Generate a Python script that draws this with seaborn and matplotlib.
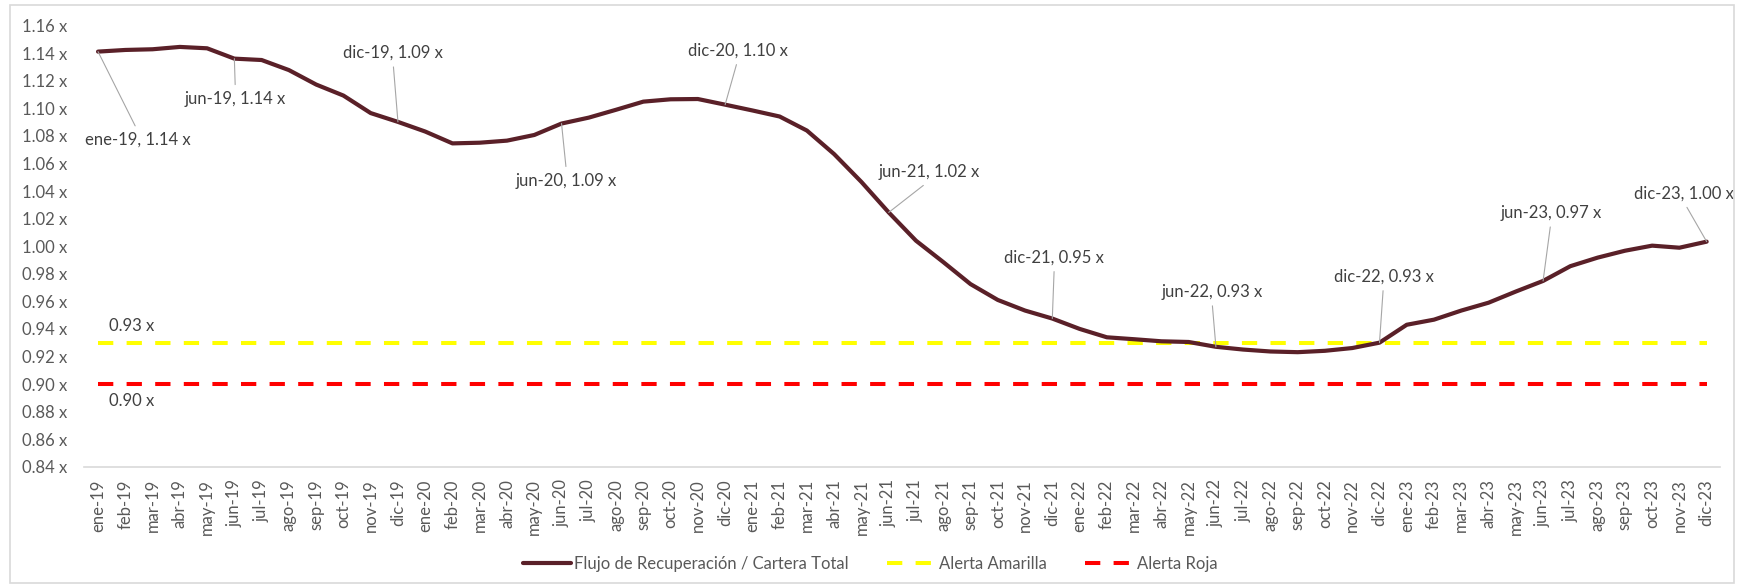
import matplotlib
matplotlib.use("Agg")
import matplotlib.pyplot as plt
from matplotlib.patches import Rectangle
from matplotlib.ticker import FuncFormatter
import numpy as np
import pandas as pd
import seaborn as sns

# months (Spanish abbreviations) and the recovery ratio series
meses_abr = ["ene", "feb", "mar", "abr", "may", "jun", "jul", "ago", "sep", "oct", "nov", "dic"]
anios = ["19", "20", "21", "22", "23"]
meses = [f"{m}-{a}" for a in anios for m in meses_abr]

ratio = [1.1412, 1.1424, 1.1429, 1.1446, 1.1436, 1.1361, 1.1351, 1.1278, 1.1173, 1.1093,
         1.0966, 1.0902, 1.0832, 1.0746, 1.0751, 1.0766, 1.0807, 1.0890, 1.0933, 1.0990,
         1.1049, 1.1066, 1.1068, 1.1027, 1.0985, 1.0941, 1.0839, 1.0668, 1.0466, 1.0245,
         1.0040, 0.9885, 0.9725, 0.9610, 0.9533, 0.9475, 0.9400, 0.9339, 0.9325, 0.9310,
         0.9305, 0.9270, 0.9250, 0.9236, 0.9231, 0.9241, 0.9261, 0.9300, 0.9430, 0.9467,
         0.9533, 0.9590, 0.9671, 0.9748, 0.9855, 0.9917, 0.9967, 1.0004, 0.9989, 1.0033]

alerta_amarilla = 0.93
alerta_roja = 0.90

# months that carry a data label
meses_etiqueta = ["ene-19", "jun-19", "dic-19", "jun-20", "dic-20", "jun-21",
                  "dic-21", "jun-22", "dic-22", "jun-23", "dic-23"]

y_ticks = np.arange(0.84, 1.1601, 0.02)

# label offsets in pixels from the labelled point (layout only)
offsets = {
    "ene-19": (40, -88), "jun-19": (1, -40), "dic-19": (-5, 69), "jun-20": (5, -57),
    "dic-20": (13, 54), "jun-21": (41, 40), "dic-21": (2, 61), "jun-22": (-4, 55),
    "dic-22": (4, 66), "jun-23": (8, 68), "dic-23": (-23, 48),
}

df = pd.DataFrame({
    "mes": meses,
    "ratio": ratio,
    "amarilla": [alerta_amarilla] * len(meses),
    "roja": [alerta_roja] * len(meses),
})

sns.set_theme(style="white")
plt.rcParams["font.family"] = ["Lato", "DejaVu Sans"]

fs = 12
gris = "#595959"
fig = plt.figure(figsize=(17.4, 5.86), dpi=100)
ax = fig.add_axes([84.4 / 1740, 1 - 466.7 / 586, 1635.9 / 1740, 441.0 / 586])

sns.lineplot(data=df, x="mes", y="ratio", sort=False, ax=ax, color="#5A2028", linewidth=3.0,
             label="Flujo de Recuperación / Cartera Total")
sns.lineplot(data=df, x="mes", y="amarilla", sort=False, ax=ax, color="#FFFF00", linewidth=2.9,
             label="Alerta Amarilla")
sns.lineplot(data=df, x="mes", y="roja", sort=False, ax=ax, color="#FF0000", linewidth=2.9,
             label="Alerta Roja")
for ln in ax.lines[1:3]:
    ln.set_dashes((3.8, 3.3))
ax.lines[0].set_zorder(3)

ax.set_xlim(-0.5, len(meses) - 0.5)
ax.set_ylim(0.84, 1.16)
ax.set_yticks(y_ticks)
ax.yaxis.set_major_formatter(FuncFormatter(lambda v, p: f"{v:.2f} x"))
ax.set_xlabel("")
ax.set_ylabel("")
ax.tick_params(axis="y", length=0, pad=12, labelsize=fs, labelcolor=gris)
ax.tick_params(axis="x", length=0, pad=9, labelsize=fs, labelcolor=gris, rotation=90)
ax.grid(False)
for s in ["top", "right", "left"]:
    ax.spines[s].set_visible(False)
ax.spines["bottom"].set_color("#D9D9D9")
ax.spines["bottom"].set_linewidth(1.2)

# data labels with leader lines
for mes in meses_etiqueta:
    i = meses.index(mes)
    v = ratio[i]
    dx, dy = offsets[mes]
    ax.annotate(f"{mes}, {v:.2f} x", xy=(i, v), xytext=(dx, dy), textcoords="offset pixels",
                ha="center", va="center", fontsize=fs, color="#404040",
                arrowprops=dict(arrowstyle="-", color="#A6A6A6", lw=0.8, shrinkA=2, shrinkB=0,
                                relpos=(0.5, 0.0) if dy > 0 else (0.5, 1.0)))

# threshold labels
ax.annotate(f"{alerta_amarilla:.2f} x", xy=(0, alerta_amarilla), xytext=(34, 17),
            textcoords="offset pixels", ha="center", va="center", fontsize=fs, color="#404040")
ax.annotate(f"{alerta_roja:.2f} x", xy=(0, alerta_roja), xytext=(34, -17),
            textcoords="offset pixels", ha="center", va="center", fontsize=fs, color="#404040")

leg = ax.legend(loc="center", bbox_to_anchor=(0.5, 0.0375), bbox_transform=fig.transFigure,
                ncol=3, frameon=False, fontsize=fs, handlelength=2.9, handletextpad=0.2,
                columnspacing=2.3)
for t in leg.get_texts():
    t.set_color(gris)

fig.patches.append(Rectangle((10 / 1740, 3 / 586), 1724 / 1740, 578 / 586, transform=fig.transFigure,
                             fill=False, edgecolor="#D9D9D9", linewidth=1.2))

fig.savefig("out.png", dpi=100)
